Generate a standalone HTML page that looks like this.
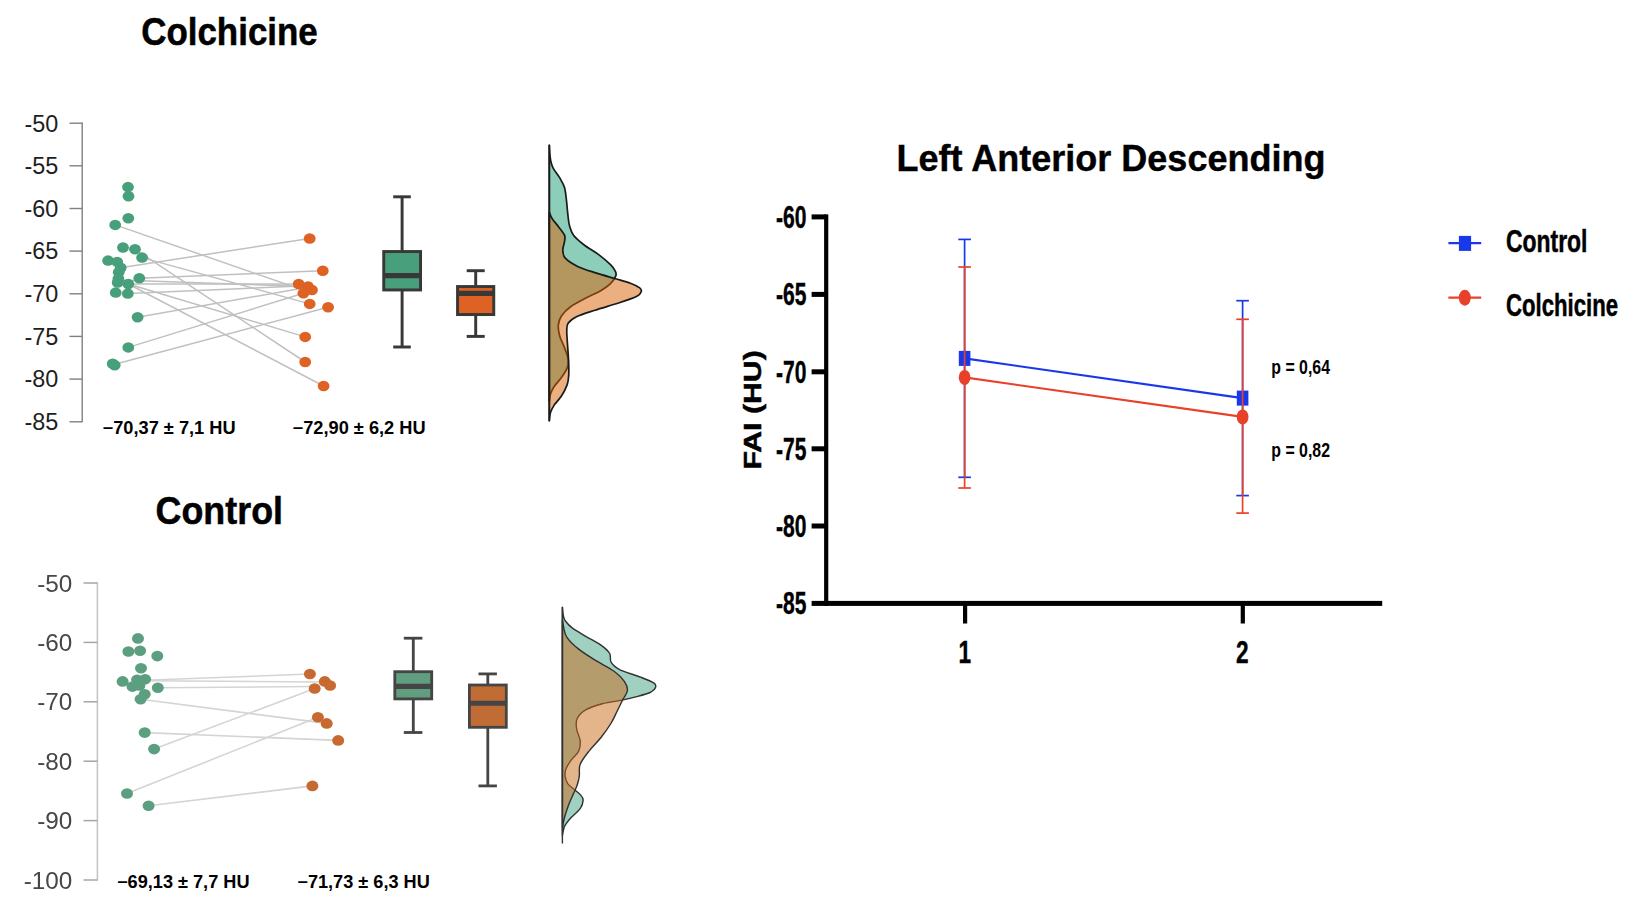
<!DOCTYPE html>
<html lang="en"><head><meta charset="utf-8"><title>FAI Left Anterior Descending</title>
<style>
html,body{margin:0;padding:0;background:#fff;}
body{width:1632px;height:914px;overflow:hidden;}
svg{display:block;}
text{font-family:"Liberation Sans",sans-serif;}
.b{font-weight:bold;}
</style></head><body>
<svg width="1632" height="914" viewBox="0 0 1632 914">
<rect width="1632" height="914" fill="#ffffff"/>

<text class="b" x="141.2" y="45.3" font-size="38.6" stroke="#000" stroke-width="0.5" textLength="176.6" lengthAdjust="spacingAndGlyphs">Colchicine</text>
<text class="b" x="155.6" y="524.4" font-size="38.3" stroke="#000" stroke-width="0.5" textLength="127.4" lengthAdjust="spacingAndGlyphs">Control</text>
<text class="b" x="896.5" y="171.3" font-size="36.2" stroke="#000" stroke-width="0.4" textLength="429" lengthAdjust="spacingAndGlyphs">Left Anterior Descending</text>
<g id="p1">
<line x1="82.2" y1="122.60000000000001" x2="82.2" y2="422.35" stroke="#808080" stroke-width="1.4"/>
<line x1="69.5" y1="123.2" x2="82.2" y2="123.2" stroke="#808080" stroke-width="1.4"/>
<text x="58.2" y="131.5" font-size="23" text-anchor="end" fill="#1e1e1e" textLength="33.8" lengthAdjust="spacingAndGlyphs">-50</text>
<line x1="69.5" y1="165.8" x2="82.2" y2="165.8" stroke="#808080" stroke-width="1.4"/>
<text x="58.2" y="174.2" font-size="23" text-anchor="end" fill="#1e1e1e" textLength="33.8" lengthAdjust="spacingAndGlyphs">-55</text>
<line x1="69.5" y1="208.5" x2="82.2" y2="208.5" stroke="#808080" stroke-width="1.4"/>
<text x="58.2" y="216.8" font-size="23" text-anchor="end" fill="#1e1e1e" textLength="33.8" lengthAdjust="spacingAndGlyphs">-60</text>
<line x1="69.5" y1="251.1" x2="82.2" y2="251.1" stroke="#808080" stroke-width="1.4"/>
<text x="58.2" y="259.4" font-size="23" text-anchor="end" fill="#1e1e1e" textLength="33.8" lengthAdjust="spacingAndGlyphs">-65</text>
<line x1="69.5" y1="293.8" x2="82.2" y2="293.8" stroke="#808080" stroke-width="1.4"/>
<text x="58.2" y="302.1" font-size="23" text-anchor="end" fill="#1e1e1e" textLength="33.8" lengthAdjust="spacingAndGlyphs">-70</text>
<line x1="69.5" y1="336.4" x2="82.2" y2="336.4" stroke="#808080" stroke-width="1.4"/>
<text x="58.2" y="344.8" font-size="23" text-anchor="end" fill="#1e1e1e" textLength="33.8" lengthAdjust="spacingAndGlyphs">-75</text>
<line x1="69.5" y1="379.1" x2="82.2" y2="379.1" stroke="#808080" stroke-width="1.4"/>
<text x="58.2" y="387.4" font-size="23" text-anchor="end" fill="#1e1e1e" textLength="33.8" lengthAdjust="spacingAndGlyphs">-80</text>
<line x1="69.5" y1="421.8" x2="82.2" y2="421.8" stroke="#808080" stroke-width="1.4"/>
<text x="58.2" y="430.1" font-size="23" text-anchor="end" fill="#1e1e1e" textLength="33.8" lengthAdjust="spacingAndGlyphs">-85</text>
<line x1="115.2" y1="224.9" x2="303.0" y2="290.0" stroke="#c0c0c0" stroke-width="1.5"/><line x1="120.7" y1="267.7" x2="309.7" y2="238.5" stroke="#c0c0c0" stroke-width="1.5"/><line x1="142.1" y1="257.6" x2="309.7" y2="303.9" stroke="#c0c0c0" stroke-width="1.5"/><line x1="135.0" y1="249.3" x2="305.2" y2="362.0" stroke="#c0c0c0" stroke-width="1.5"/><line x1="139.3" y1="278.2" x2="322.8" y2="270.7" stroke="#c0c0c0" stroke-width="1.5"/><line x1="128.3" y1="284.0" x2="298.7" y2="284.0" stroke="#c0c0c0" stroke-width="1.5"/><line x1="118.4" y1="280.0" x2="308.0" y2="286.5" stroke="#c0c0c0" stroke-width="1.5"/><line x1="127.8" y1="293.6" x2="300.0" y2="286.0" stroke="#c0c0c0" stroke-width="1.5"/><line x1="137.6" y1="317.2" x2="303.4" y2="288.0" stroke="#c0c0c0" stroke-width="1.5"/><line x1="128.3" y1="347.4" x2="303.4" y2="293.3" stroke="#c0c0c0" stroke-width="1.5"/><line x1="114.0" y1="364.5" x2="328.1" y2="307.2" stroke="#c0c0c0" stroke-width="1.5"/><line x1="128.3" y1="284.0" x2="305.2" y2="336.9" stroke="#c0c0c0" stroke-width="1.5"/><line x1="128.3" y1="284.0" x2="323.6" y2="386.0" stroke="#c0c0c0" stroke-width="1.5"/>
<ellipse cx="128.0" cy="187.1" rx="5.9" ry="5.25" fill="#47a07b"/><ellipse cx="128.5" cy="196.2" rx="5.9" ry="5.25" fill="#47a07b"/><ellipse cx="128.3" cy="218.3" rx="5.9" ry="5.25" fill="#47a07b"/><ellipse cx="115.2" cy="224.9" rx="5.9" ry="5.25" fill="#47a07b"/><ellipse cx="123.0" cy="247.5" rx="5.9" ry="5.25" fill="#47a07b"/><ellipse cx="135.0" cy="249.3" rx="5.9" ry="5.25" fill="#47a07b"/><ellipse cx="142.1" cy="257.6" rx="5.9" ry="5.25" fill="#47a07b"/><ellipse cx="108.1" cy="260.6" rx="5.9" ry="5.25" fill="#47a07b"/><ellipse cx="117.2" cy="261.9" rx="5.9" ry="5.25" fill="#47a07b"/><ellipse cx="120.7" cy="267.7" rx="5.9" ry="5.25" fill="#47a07b"/><ellipse cx="118.7" cy="272.2" rx="5.9" ry="5.25" fill="#47a07b"/><ellipse cx="118.4" cy="278.7" rx="5.9" ry="5.25" fill="#47a07b"/><ellipse cx="117.7" cy="282.5" rx="5.9" ry="5.25" fill="#47a07b"/><ellipse cx="139.3" cy="278.2" rx="5.9" ry="5.25" fill="#47a07b"/><ellipse cx="128.3" cy="284.0" rx="5.9" ry="5.25" fill="#47a07b"/><ellipse cx="115.7" cy="292.6" rx="5.9" ry="5.25" fill="#47a07b"/><ellipse cx="127.8" cy="293.6" rx="5.9" ry="5.25" fill="#47a07b"/><ellipse cx="137.6" cy="317.2" rx="5.9" ry="5.25" fill="#47a07b"/><ellipse cx="128.3" cy="347.4" rx="5.9" ry="5.25" fill="#47a07b"/><ellipse cx="112.7" cy="363.8" rx="5.9" ry="5.25" fill="#47a07b"/><ellipse cx="114.7" cy="365.3" rx="5.9" ry="5.25" fill="#47a07b"/>
<ellipse cx="309.7" cy="238.5" rx="5.9" ry="5.25" fill="#de6223"/><ellipse cx="322.8" cy="270.7" rx="5.9" ry="5.25" fill="#de6223"/><ellipse cx="298.7" cy="284.0" rx="5.9" ry="5.25" fill="#de6223"/><ellipse cx="308.0" cy="286.5" rx="5.9" ry="5.25" fill="#de6223"/><ellipse cx="312.0" cy="290.0" rx="5.9" ry="5.25" fill="#de6223"/><ellipse cx="303.4" cy="293.3" rx="5.9" ry="5.25" fill="#de6223"/><ellipse cx="309.7" cy="303.9" rx="5.9" ry="5.25" fill="#de6223"/><ellipse cx="328.1" cy="307.2" rx="5.9" ry="5.25" fill="#de6223"/><ellipse cx="305.2" cy="336.9" rx="5.9" ry="5.25" fill="#de6223"/><ellipse cx="305.2" cy="362.0" rx="5.9" ry="5.25" fill="#de6223"/><ellipse cx="323.6" cy="386.0" rx="5.9" ry="5.25" fill="#de6223"/>
<g stroke="#383838" stroke-width="2.95" fill="none"><line x1="402.1" y1="196.8" x2="402.1" y2="251.55"/><line x1="402.1" y1="289.95" x2="402.1" y2="347"/><line x1="393.2" y1="196.8" x2="410.8" y2="196.8"/><line x1="393.2" y1="347" x2="410.8" y2="347"/><rect x="383.75" y="251.55" width="36.8" height="38.4" fill="#47a07b"/><line x1="383.75" y1="275.6" x2="420.55" y2="275.6" stroke-width="5.1"/></g>
<g stroke="#383838" stroke-width="2.95" fill="none"><line x1="475.7" y1="270.7" x2="475.7" y2="286.55"/><line x1="475.7" y1="314.55" x2="475.7" y2="336.4"/><line x1="466.7" y1="270.7" x2="484.7" y2="270.7"/><line x1="466.7" y1="336.4" x2="484.7" y2="336.4"/><rect x="457.55" y="286.55" width="36.2" height="28.0" fill="#de6223"/><line x1="457.55" y1="293.4" x2="493.75" y2="293.4" stroke-width="5.1"/></g>
<path d="M549.3,145.0 C549.4,146.3 549.6,150.5 549.8,153.0 C550.0,155.5 550.1,157.5 550.6,160.0 C551.1,162.5 551.5,164.9 553.0,167.8 C554.5,170.8 557.7,174.4 559.6,177.7 C561.5,181.0 563.4,183.7 564.5,187.5 C565.6,191.3 566.0,196.3 566.5,200.7 C567.0,205.1 567.3,209.7 567.8,213.8 C568.3,217.9 568.4,221.7 569.4,225.3 C570.4,228.9 571.0,231.9 573.5,235.2 C576.0,238.5 580.0,241.7 584.2,245.0 C588.5,248.3 594.6,251.6 599.0,254.9 C603.4,258.2 607.8,262.0 610.5,264.7 C613.2,267.4 614.5,269.4 615.4,271.3 C616.3,273.2 616.6,274.1 615.7,276.2 C614.8,278.3 612.5,281.8 610.0,284.2 C607.5,286.6 604.7,288.4 600.7,290.7 C596.7,293.0 590.8,295.5 585.8,298.1 C580.8,300.7 574.9,303.6 570.9,306.5 C566.9,309.4 563.7,312.7 561.6,315.8 C559.5,318.9 558.6,321.7 558.3,325.1 C558.0,328.5 558.8,332.6 559.8,336.3 C560.8,340.0 563.0,343.7 564.4,347.4 C565.8,351.1 567.6,355.2 568.1,358.6 C568.6,362.0 568.3,364.8 567.2,367.9 C566.1,371.0 563.8,374.1 561.6,377.2 C559.4,380.3 556.1,383.7 554.2,386.5 C552.4,389.3 551.3,391.4 550.5,393.9 C549.7,396.4 549.5,400.1 549.3,401.3 Z" fill="#1b9e77" fill-opacity="0.5" stroke="#1a1a1a" stroke-width="1.7" stroke-linejoin="round"/>
<path d="M549.3,212.2 C549.8,213.3 550.6,216.2 552.2,218.7 C553.8,221.2 556.7,224.2 558.7,227.0 C560.8,229.8 563.5,232.8 564.5,235.2 C565.5,237.6 564.8,239.2 564.5,241.7 C564.2,244.2 562.7,247.2 562.8,250.0 C562.9,252.8 562.8,255.5 565.3,258.2 C567.8,260.9 572.5,263.9 577.6,266.4 C582.7,268.8 589.4,270.8 595.7,272.9 C602.0,274.9 609.6,277.0 615.4,278.7 C621.2,280.4 626.3,281.7 630.4,283.2 C634.5,284.7 637.9,286.5 639.7,287.9 C641.5,289.3 641.7,290.2 641.2,291.6 C640.7,293.0 640.5,294.4 636.9,296.3 C633.2,298.2 626.3,300.5 619.3,302.8 C612.3,305.1 602.2,307.9 595.1,310.2 C588.0,312.5 581.0,314.5 576.5,316.7 C572.0,318.9 569.7,320.9 568.1,323.2 C566.5,325.5 566.9,327.9 566.8,330.7 C566.6,333.5 567.0,336.3 567.2,340.0 C567.4,343.7 567.9,349.0 568.1,353.0 C568.4,357.0 568.6,360.4 568.7,364.1 C568.8,367.8 569.0,371.9 568.7,375.3 C568.5,378.7 568.4,381.2 567.2,384.6 C566.0,388.0 563.8,392.4 561.6,395.8 C559.4,399.2 556.1,402.3 554.2,405.1 C552.4,407.9 551.3,409.9 550.5,412.5 C549.7,415.1 549.5,419.5 549.3,420.9 Z" fill="#d95f02" fill-opacity="0.5" stroke="#1a1a1a" stroke-width="1.7" stroke-linejoin="round"/>
<line x1="549.3" y1="145" x2="549.3" y2="421" stroke="#1a1a1a" stroke-width="1.7"/>
<text class="b" x="102.6" y="434.4" font-size="17.7" textLength="133" lengthAdjust="spacingAndGlyphs">−70,37 ± 7,1 HU</text>
<text class="b" x="292.6" y="434.4" font-size="17.7" textLength="133" lengthAdjust="spacingAndGlyphs">−72,90 ± 6,2 HU</text>
</g>
<g id="p2"><g filter="url(#bl)">
<line x1="97.4" y1="582.4" x2="97.4" y2="880.6" stroke="#c2c2c2" stroke-width="1.5"/>
<line x1="83.5" y1="583.0" x2="97.4" y2="583.0" stroke="#a6a6a6" stroke-width="1.5"/>
<text x="72.3" y="591.6" font-size="24.3" text-anchor="end" fill="#464646">-50</text>
<line x1="83.5" y1="642.4" x2="97.4" y2="642.4" stroke="#a6a6a6" stroke-width="1.5"/>
<text x="72.3" y="651.0" font-size="24.3" text-anchor="end" fill="#464646">-60</text>
<line x1="83.5" y1="701.8" x2="97.4" y2="701.8" stroke="#a6a6a6" stroke-width="1.5"/>
<text x="72.3" y="710.4" font-size="24.3" text-anchor="end" fill="#464646">-70</text>
<line x1="83.5" y1="761.2" x2="97.4" y2="761.2" stroke="#a6a6a6" stroke-width="1.5"/>
<text x="72.3" y="769.8" font-size="24.3" text-anchor="end" fill="#464646">-80</text>
<line x1="83.5" y1="820.6" x2="97.4" y2="820.6" stroke="#a6a6a6" stroke-width="1.5"/>
<text x="72.3" y="829.2" font-size="24.3" text-anchor="end" fill="#464646">-90</text>
<line x1="83.5" y1="880.0" x2="97.4" y2="880.0" stroke="#a6a6a6" stroke-width="1.5"/>
<text x="72.3" y="888.6" font-size="24.3" text-anchor="end" fill="#464646">-100</text>
<line x1="145.1" y1="680.3" x2="309.9" y2="674.0" stroke="#d4d4d4" stroke-width="1.6"/><line x1="145.1" y1="680.8" x2="324.8" y2="682.0" stroke="#d4d4d4" stroke-width="1.6"/><line x1="157.8" y1="687.8" x2="314.7" y2="686.5" stroke="#d4d4d4" stroke-width="1.6"/><line x1="140.6" y1="699.3" x2="326.7" y2="723.4" stroke="#d4d4d4" stroke-width="1.6"/><line x1="144.7" y1="732.6" x2="338.2" y2="740.4" stroke="#d4d4d4" stroke-width="1.6"/><line x1="154.1" y1="749.1" x2="314.7" y2="688.5" stroke="#d4d4d4" stroke-width="1.6"/><line x1="127.0" y1="793.5" x2="317.9" y2="717.2" stroke="#d4d4d4" stroke-width="1.6"/><line x1="148.6" y1="805.7" x2="312.4" y2="785.9" stroke="#d4d4d4" stroke-width="1.6"/>
<ellipse cx="138.0" cy="638.4" rx="6" ry="5.3" fill="#5c9f80"/><ellipse cx="128.4" cy="651.5" rx="6" ry="5.3" fill="#5c9f80"/><ellipse cx="140.1" cy="650.8" rx="6" ry="5.3" fill="#5c9f80"/><ellipse cx="157.3" cy="656.1" rx="6" ry="5.3" fill="#5c9f80"/><ellipse cx="141.0" cy="668.3" rx="6" ry="5.3" fill="#5c9f80"/><ellipse cx="122.6" cy="681.4" rx="6" ry="5.3" fill="#5c9f80"/><ellipse cx="137.1" cy="679.7" rx="6" ry="5.3" fill="#5c9f80"/><ellipse cx="145.1" cy="679.3" rx="6" ry="5.3" fill="#5c9f80"/><ellipse cx="132.5" cy="686.6" rx="6" ry="5.3" fill="#5c9f80"/><ellipse cx="139.4" cy="685.5" rx="6" ry="5.3" fill="#5c9f80"/><ellipse cx="157.8" cy="687.8" rx="6" ry="5.3" fill="#5c9f80"/><ellipse cx="144.7" cy="694.2" rx="6" ry="5.3" fill="#5c9f80"/><ellipse cx="140.6" cy="699.3" rx="6" ry="5.3" fill="#5c9f80"/><ellipse cx="144.7" cy="732.6" rx="6" ry="5.3" fill="#5c9f80"/><ellipse cx="154.1" cy="749.1" rx="6" ry="5.3" fill="#5c9f80"/><ellipse cx="127.0" cy="793.5" rx="6" ry="5.3" fill="#5c9f80"/><ellipse cx="148.6" cy="805.7" rx="6" ry="5.3" fill="#5c9f80"/>
<ellipse cx="309.9" cy="674.0" rx="6" ry="5.3" fill="#c76a30"/><ellipse cx="324.8" cy="681.4" rx="6" ry="5.3" fill="#c76a30"/><ellipse cx="330.1" cy="685.5" rx="6" ry="5.3" fill="#c76a30"/><ellipse cx="314.7" cy="688.5" rx="6" ry="5.3" fill="#c76a30"/><ellipse cx="317.9" cy="717.2" rx="6" ry="5.3" fill="#c76a30"/><ellipse cx="326.7" cy="723.4" rx="6" ry="5.3" fill="#c76a30"/><ellipse cx="338.2" cy="740.4" rx="6" ry="5.3" fill="#c76a30"/><ellipse cx="312.4" cy="785.9" rx="6" ry="5.3" fill="#c76a30"/>
<g stroke="#444" stroke-width="2.8" fill="none"><line x1="413.3" y1="638.2" x2="413.3" y2="671.7"/><line x1="413.3" y1="698.9" x2="413.3" y2="732.5"/><line x1="403.8" y1="638.2" x2="422.4" y2="638.2"/><line x1="403.8" y1="732.5" x2="422.4" y2="732.5"/><rect x="394.8" y="671.7" width="36.9" height="27.2" fill="#609e7f"/><line x1="394.8" y1="686.4" x2="431.7" y2="686.4" stroke-width="5.1"/></g>
<g stroke="#444" stroke-width="2.8" fill="none"><line x1="487.8" y1="673.9" x2="487.8" y2="685"/><line x1="487.8" y1="727.3" x2="487.8" y2="785.9"/><line x1="478.5" y1="673.9" x2="496.9" y2="673.9"/><line x1="478.5" y1="785.9" x2="496.9" y2="785.9"/><rect x="469.4" y="685" width="36.9" height="42.3" fill="#c26c36"/><line x1="469.4" y1="703.2" x2="506.3" y2="703.2" stroke-width="5.1"/></g>
<path d="M562.4,607.1 C562.6,608.5 562.8,612.8 563.3,615.1 C563.8,617.4 563.8,618.8 565.4,621.0 C567.0,623.2 569.1,625.7 572.8,628.4 C576.5,631.1 582.6,634.3 587.5,637.3 C592.5,640.2 598.6,643.4 602.3,646.1 C606.0,648.9 608.2,650.8 609.7,653.5 C611.2,656.2 609.5,659.7 611.2,662.4 C612.9,665.1 615.1,667.3 620.0,669.8 C625.0,672.2 635.1,675.0 640.7,677.2 C646.4,679.4 651.6,681.4 654.0,683.1 C656.5,684.8 656.0,686.0 655.5,687.5 C655.0,689.0 654.0,690.5 651.1,692.0 C648.1,693.4 642.5,695.1 637.8,696.4 C633.1,697.7 628.9,698.7 623.0,699.9 C617.1,701.2 608.5,702.1 602.3,703.8 C596.2,705.4 590.3,707.2 586.1,709.7 C581.9,712.1 578.8,715.3 577.2,718.5 C575.6,721.7 576.1,725.2 576.6,728.9 C577.1,732.6 579.8,737.0 580.2,740.7 C580.5,744.4 580.2,747.9 578.7,751.1 C577.2,754.3 573.4,757.0 571.3,759.9 C569.2,762.9 567.0,766.1 566.0,768.8 C564.9,771.5 564.8,773.7 565.1,776.2 C565.4,778.6 566.2,781.3 567.7,783.6 C569.3,785.8 572.0,787.5 574.2,789.5 C576.5,791.4 579.6,793.6 581.0,795.4 C582.5,797.2 583.3,798.2 583.1,800.4 C583.0,802.6 582.4,805.6 580.2,808.7 C577.9,811.8 572.4,816.1 569.8,819.0 C567.2,822.0 565.7,823.7 564.5,826.4 C563.3,829.1 562.8,833.8 562.4,835.3 Z" fill="#41a181" fill-opacity="0.5" stroke="#303030" stroke-width="1.4" stroke-linejoin="round"/>
<path d="M562.4,619.6 C562.7,621.0 563.2,625.5 563.9,628.4 C564.6,631.4 564.4,633.8 566.9,637.3 C569.3,640.7 573.8,645.2 578.7,649.1 C583.6,653.0 590.5,657.2 596.4,660.9 C602.3,664.6 609.5,667.8 614.1,671.3 C618.8,674.7 622.3,678.4 624.5,681.6 C626.7,684.8 627.7,687.5 627.4,690.5 C627.2,693.4 624.7,695.9 623.0,699.3 C621.3,702.8 619.1,707.2 617.1,711.2 C615.1,715.1 613.9,718.5 611.2,723.0 C608.5,727.4 604.5,733.1 600.8,737.8 C597.1,742.4 592.5,746.6 589.0,751.1 C585.6,755.5 581.8,760.2 580.2,764.3 C578.5,768.5 579.8,772.7 579.3,776.2 C578.8,779.6 578.2,782.1 577.2,785.0 C576.2,788.0 574.8,790.5 573.4,793.9 C571.9,797.3 569.8,801.8 568.3,805.7 C566.9,809.7 565.5,813.8 564.5,817.5 C563.5,821.2 562.8,826.2 562.4,827.9 Z" fill="#c96919" fill-opacity="0.5" stroke="#303030" stroke-width="1.4" stroke-linejoin="round"/>
<line x1="562.4" y1="607" x2="562.4" y2="843.5" stroke="#303030" stroke-width="1.4"/>
</g>
<text class="b" x="117" y="888.2" font-size="17.6" textLength="132.5" lengthAdjust="spacingAndGlyphs">−69,13 ± 7,7 HU</text>
<text class="b" x="297.3" y="888.2" font-size="17.6" textLength="132.5" lengthAdjust="spacingAndGlyphs">−71,73 ± 6,3 HU</text>
</g>
<g id="p3">
<rect x="824.10" y="214.40" width="4.2" height="391.50" fill="#000"/>
<rect x="811.6" y="600.90" width="570.6" height="5.0" fill="#000"/>
<rect x="811.6" y="214.40" width="14.6" height="5.0" fill="#000"/>
<rect x="811.6" y="291.90" width="14.6" height="5.0" fill="#000"/>
<rect x="811.6" y="369.30" width="14.6" height="5.0" fill="#000"/>
<rect x="811.6" y="446.30" width="14.6" height="5.0" fill="#000"/>
<rect x="811.6" y="523.50" width="14.6" height="5.0" fill="#000"/>
<text class="b" x="806.4" y="227.7" font-size="30.6" text-anchor="end" textLength="30.4" lengthAdjust="spacingAndGlyphs" stroke="#000" stroke-width="0.4">-60</text>
<text class="b" x="806.4" y="305.2" font-size="30.6" text-anchor="end" textLength="30.4" lengthAdjust="spacingAndGlyphs" stroke="#000" stroke-width="0.4">-65</text>
<text class="b" x="806.4" y="382.6" font-size="30.6" text-anchor="end" textLength="30.4" lengthAdjust="spacingAndGlyphs" stroke="#000" stroke-width="0.4">-70</text>
<text class="b" x="806.4" y="459.6" font-size="30.6" text-anchor="end" textLength="30.4" lengthAdjust="spacingAndGlyphs" stroke="#000" stroke-width="0.4">-75</text>
<text class="b" x="806.4" y="536.8" font-size="30.6" text-anchor="end" textLength="30.4" lengthAdjust="spacingAndGlyphs" stroke="#000" stroke-width="0.4">-80</text>
<text class="b" x="806.4" y="614.2" font-size="30.6" text-anchor="end" textLength="30.4" lengthAdjust="spacingAndGlyphs" stroke="#000" stroke-width="0.4">-85</text>
<rect x="963.00" y="603.4" width="4.2" height="20.1" fill="#000"/>
<text class="b" x="964.7" y="663.2" font-size="31" text-anchor="middle" textLength="12.6" lengthAdjust="spacingAndGlyphs" stroke="#000" stroke-width="0.4">1</text>
<rect x="1240.70" y="603.4" width="4.2" height="20.1" fill="#000"/>
<text class="b" x="1242.4" y="663.2" font-size="31" text-anchor="middle" textLength="12.6" lengthAdjust="spacingAndGlyphs" stroke="#000" stroke-width="0.4">2</text>
<text class="b" transform="translate(761.4,409.9) rotate(-90) scale(1.235,1)" font-size="24.5" text-anchor="middle" stroke="#000" stroke-width="0.5">FAI (HU)</text>
<g stroke="#1838ea" stroke-width="1.7" fill="none"><line x1="964.6" y1="239.4" x2="964.6" y2="477.3"/><line x1="958.3000000000001" y1="239.4" x2="970.9" y2="239.4"/><line x1="958.3000000000001" y1="477.3" x2="970.9" y2="477.3"/><line x1="1242.6" y1="300.7" x2="1242.6" y2="495.6"/><line x1="1236.3" y1="300.7" x2="1248.8999999999999" y2="300.7"/><line x1="1236.3" y1="495.6" x2="1248.8999999999999" y2="495.6"/><line x1="964.6" y1="358.4" x2="1242.6" y2="398.1" stroke-width="2.1"/></g>
<rect x="958.8" y="350.9" width="11.6" height="15" fill="#1838ea"/><rect x="1236.8" y="390.6" width="11.6" height="15" fill="#1838ea"/>
<g stroke="#e8412a" stroke-width="1.7" fill="none"><line x1="964.6" y1="267" x2="964.6" y2="488"/><line x1="958.3000000000001" y1="267" x2="970.9" y2="267"/><line x1="958.3000000000001" y1="488" x2="970.9" y2="488"/><line x1="1242.6" y1="319.3" x2="1242.6" y2="513.1"/><line x1="1236.3" y1="319.3" x2="1248.8999999999999" y2="319.3"/><line x1="1236.3" y1="513.1" x2="1248.8999999999999" y2="513.1"/><line x1="964.6" y1="377.4" x2="1242.6" y2="416.9" stroke-width="2.1"/></g>
<ellipse cx="964.6" cy="377.4" rx="5.9" ry="7.5" fill="#e8412a"/><ellipse cx="1242.6" cy="416.9" rx="5.9" ry="7.5" fill="#e8412a"/>
<text class="b" x="1271.3" y="373.7" font-size="19.3" textLength="58.7" lengthAdjust="spacingAndGlyphs">p = 0,64</text>
<text class="b" x="1271.3" y="457.3" font-size="19.3" textLength="58.7" lengthAdjust="spacingAndGlyphs">p = 0,82</text>
<line x1="1448.4" y1="243.2" x2="1481.2" y2="243.2" stroke="#1838ea" stroke-width="2.2"/><rect x="1458.9" y="235.9" width="12.2" height="15" fill="#1838ea"/>
<line x1="1448.4" y1="297.7" x2="1481.2" y2="297.7" stroke="#e8412a" stroke-width="2.2"/><ellipse cx="1464.8" cy="297.7" rx="6" ry="8" fill="#e8412a"/>
<text class="b" x="1506" y="252.2" font-size="31" stroke="#000" stroke-width="0.5" textLength="81.5" lengthAdjust="spacingAndGlyphs">Control</text>
<text class="b" x="1506" y="315.9" font-size="31" stroke="#000" stroke-width="0.5" textLength="112" lengthAdjust="spacingAndGlyphs">Colchicine</text>
</g>
<defs><filter id="bl" x="-5%" y="-5%" width="110%" height="110%"><feGaussianBlur stdDeviation="0.7"/></filter></defs>
</svg></body></html>
